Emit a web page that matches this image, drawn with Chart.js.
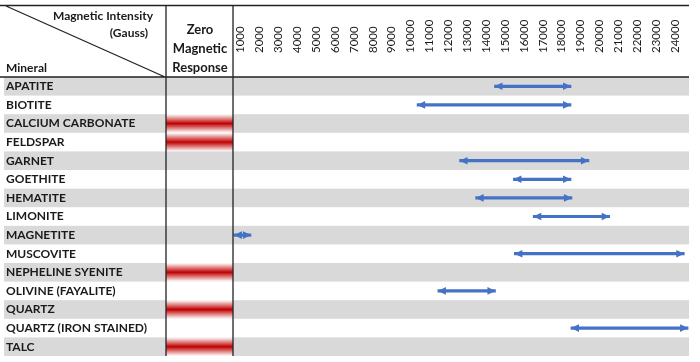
<!DOCTYPE html>
<html>
<head>
<meta charset="utf-8">
<script src="https://cdn.jsdelivr.net/npm/chart.js@4.4.0/dist/chart.umd.min.js"></script>
<style>
  html, body { margin: 0; padding: 0; background: #fff; }
  #wrap { width: 700px; height: 362px; }
</style>
</head>
<body>
<div id="wrap"><canvas id="chartMinerals"></canvas></div>
<script>
// --- DADOS ---
const minerals = [
  "APATITE", "BIOTITE", "CALCIUM CARBONATE", "FELDSPAR", "GARNET",
  "GOETHITE", "HEMATITE", "LIMONITE", "MAGNETITE", "MUSCOVITE",
  "NEPHELINE SYENITE", "OLIVINE (FAYALITE)", "QUARTZ",
  "QUARTZ (IRON STAINED)", "TALC"
];
const zeroResponse = [
  false, false, true, true, false,
  false, false, false, false, false,
  true, false, true, false, true
];
const rangeFrom = [
  14400, 10300, null, null, 12550,
  15400, 13400, 16450, 600, 15450,
  null, 11400, null, 18450, null
];
const rangeTo = [
  18450, 18450, null, null, 19400,
  18450, 18500, 20500, 1500, 24450,
  null, 14450, null, 24650, null
];
const gaussTicks = [
  1000, 2000, 3000, 4000, 5000, 6000, 7000, 8000, 9000, 10000, 11000, 12000,
  13000, 14000, 15000, 16000, 17000, 18000, 19000, 20000, 21000, 22000, 23000, 24000
];

const FONT = "Lato, 'Liberation Sans', sans-serif";
const BLUE = "#4472c4";
const INK = "#1a1a1a";

const rangeData = minerals.map((m, i) =>
  rangeFrom[i] == null ? null : [rangeFrom[i], rangeTo[i]]
);

// --- TABELA: faixas, coluna "Zero", cabeçalho, setas ---
const tablePlugin = {
  id: "tableLayout",
  beforeDraw(chart) {
    const { ctx, chartArea, scales } = chart;
    const y = scales.y;
    const half = (y.getPixelForValue(1) - y.getPixelForValue(0)) / 2;
    ctx.save();
    minerals.forEach((m, i) => {
      const cy = y.getPixelForValue(i);
      const top = cy - half, h = half * 2;
      if (i % 2 === 0) {
        ctx.fillStyle = "#d9d9d9";
        ctx.fillRect(4, top, chartArea.right - 4, h);
      }
      if (zeroResponse[i]) {
        const g = ctx.createLinearGradient(0, top, 0, top + h);
        g.addColorStop(0, "rgba(255,255,255,1)");
        g.addColorStop(0.5, "#c00000");
        g.addColorStop(1, "rgba(255,255,255,1)");
        ctx.fillStyle = g;
        ctx.fillRect(166, top, chartArea.left - 166, h);
      }
    });
    ctx.restore();
  },
  afterDatasetsDraw(chart) {
    const { ctx } = chart;
    const meta = chart.getDatasetMeta(0);
    ctx.save();
    ctx.fillStyle = BLUE;
    meta.data.forEach((bar, i) => {
      if (rangeData[i] == null) return;
      const left = Math.min(bar.x, bar.base), right = Math.max(bar.x, bar.base);
      const cy = bar.y, len = 8, w = 3.8;
      ctx.beginPath();
      ctx.moveTo(left, cy);
      ctx.lineTo(left + len, cy - w);
      ctx.lineTo(left + len, cy + w);
      ctx.closePath();
      ctx.fill();
      ctx.beginPath();
      ctx.moveTo(right, cy);
      ctx.lineTo(right - len, cy - w);
      ctx.lineTo(right - len, cy + w);
      ctx.closePath();
      ctx.fill();
    });
    ctx.restore();
  },
  afterDraw(chart) {
    const { ctx, chartArea } = chart;
    ctx.save();
    ctx.strokeStyle = "#222";
    ctx.lineWidth = 1.3;
    ctx.beginPath();
    ctx.moveTo(0, 5.5); ctx.lineTo(chartArea.right, 5.5);
    ctx.moveTo(0, chartArea.top); ctx.lineTo(chartArea.right, chartArea.top);
    ctx.moveTo(166, 5.5); ctx.lineTo(166, chartArea.bottom);
    ctx.moveTo(chartArea.left, 5.5); ctx.lineTo(chartArea.left, chartArea.bottom);
    ctx.moveTo(6, 6); ctx.lineTo(165, chartArea.top);
    ctx.stroke();

    ctx.fillStyle = INK;
    ctx.textBaseline = "middle";
    ctx.font = "bold 12px " + FONT;
    ctx.textAlign = "right";
    ctx.fillText("Magnetic Intensity", 153, 16);
    ctx.fillText("(Gauss)", 148, 33);
    ctx.textAlign = "left";
    ctx.fillText("Mineral", 6, 68);
    ctx.font = "bold 13px " + FONT;
    ctx.textAlign = "center";
    ctx.fillText("Zero", 200, 30);
    ctx.fillText("Magnetic", 200, 49);
    ctx.fillText("Response", 200, 68);
    ctx.restore();
  },
};

new Chart(document.getElementById("chartMinerals"), {
  type: "bar",
  data: {
    labels: minerals,
    datasets: [
      {
        data: rangeData,
        backgroundColor: BLUE,
        barThickness: 2.5,
        borderWidth: 0,
      },
    ],
  },
  options: {
    indexAxis: "y",
    responsive: true,
    maintainAspectRatio: false,
    animation: false,
    layout: { padding: { left: 6, top: 5, right: 7, bottom: 6 } },
    plugins: {
      legend: { display: false },
      tooltip: { enabled: false },
    },
    scales: {
      x: {
        type: "linear",
        position: "top",
        min: 550,
        max: 24700,
        afterBuildTicks: (scale) => {
          scale.ticks = gaussTicks.map((v) => ({ value: v }));
        },
        afterFit: (scale) => { scale.height = 72; },
        grid: { display: false, drawTicks: false },
        border: { display: false },
        ticks: {
          minRotation: 90,
          maxRotation: 90,
          padding: 24,
          labelOffset: 13,
          color: INK,
          font: { family: FONT, size: 11.5 },
          callback: (v) => String(v),
        },
      },
      y: {
        grid: { display: false, drawTicks: false },
        border: { display: false },
        afterFit: (scale) => {
          scale.width = 227;
          scale.paddingTop = 0;
          scale.paddingBottom = 0;
        },
        ticks: {
          crossAlign: "far",
          color: INK,
          font: { family: FONT, size: 12, weight: "bold" },
        },
      },
    },
  },
  plugins: [tablePlugin],
});
</script>
</body>
</html>
